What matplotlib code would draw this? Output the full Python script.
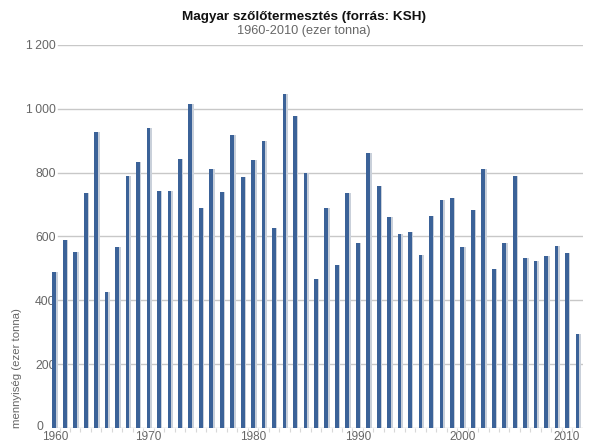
import numpy as np
import matplotlib
matplotlib.use('Agg')
import matplotlib.pyplot as plt
import matplotlib.transforms as mtransforms
from matplotlib.ticker import FuncFormatter

plt.rcParams['font.family'] = ['Liberation Sans', 'DejaVu Sans']

# data (ezer tonna)
years = np.arange(1960, 2011)
values = [488, 589, 550, 735, 928, 426, 567, 790, 833, 938,
          743, 743, 842, 1014, 689, 812, 739, 917, 786, 839,
          900, 627, 1047, 977, 800, 467, 689, 511, 735, 579,
          861, 758, 661, 608, 613, 542, 664, 714, 720, 567,
          683, 812, 499, 579, 789, 533, 523, 539, 570, 549,
          294]
xlabels = ['1960', '1970', '1980', '1990', '2000', '2010']
yticks = [0, 200, 400, 600, 800, 1000, 1200]

title = 'Magyar szőlőtermesztés (forrás: KSH)'
subtitle = '1960-2010 (ezer tonna)'
ylabel = 'mennyiség (ezer tonna)'

bar_col = '#3b6298'
shadow_col = '#c9d0da'
grid_col = '#c8c8c8'
text_col = '#666666'

W, H = 612, 445
fig = plt.figure(figsize=(W / 100, H / 100), dpi=100)
ax = fig.add_axes([50 / W, 16.7 / H, 533 / W, 383.6 / H])

# shadow bar behind, then the blue bar
ax.bar(years + 0.15, values, width=0.36, color=shadow_col, linewidth=0, zorder=2)
ax.bar(years, values, width=0.36, color=bar_col, linewidth=0, zorder=3)

ax.set_xlim(1959.59, 2010.53)
ax.set_ylim(0, 1200)

# gridlines start a little right of the axes edge, like the original
for v in yticks:
    ax.axhline(v, xmin=8 / 533, color=grid_col, lw=1, zorder=1)

for s in ax.spines.values():
    s.set_visible(False)

ax.set_yticks(yticks)
ax.yaxis.set_major_formatter(FuncFormatter(lambda v, p: '{:,}'.format(int(v)).replace(',', '\u2009')))
ax.tick_params(axis='y', length=0, pad=-4, labelsize=8.8, labelcolor=text_col)
# the "0" sits further left (and a touch higher) in the original
lbl0 = ax.get_yticklabels()[0]
lbl0.set_transform(lbl0.get_transform() + mtransforms.ScaledTranslation(-8.5 / 72, 2 / 72, fig.dpi_scale_trans))

# decade labels sit one bar to the left in the original (first one at the edge)
xpos = [int(l) - 1 for l in xlabels]
xpos[0] = int(xlabels[0])
ax.set_xticks(xpos)
ax.set_xticklabels(xlabels)
ax.set_xticks(years[:-1] + 0.5, minor=True)
ax.tick_params(axis='x', which='major', length=0, pad=2, labelsize=8.5, labelcolor=text_col)
ax.tick_params(axis='x', which='minor', length=3, color='#d8d8d8', width=0.8)
xl0 = ax.get_xticklabels()[0]
xl0.set_transform(xl0.get_transform() + mtransforms.ScaledTranslation(1 / 72, 0, fig.dpi_scale_trans))

fig.text(304 / W, 1 - 17 / H, title, ha='center', va='center',
         fontsize=9.7, fontweight='bold', color='#111111')
fig.text(304 / W, 1 - 31 / H, subtitle, ha='center', va='center',
         fontsize=9.2, color=text_col)
fig.text(17 / W, 1 - 428 / H, ylabel, rotation=90, ha='center', va='bottom',
         fontsize=8.2, color=text_col)

fig.savefig('out.png', dpi=100)
